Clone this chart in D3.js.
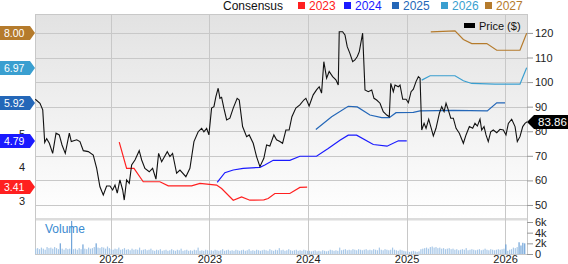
<!DOCTYPE html>
<html>
<head>
<meta charset="utf-8">
<script src="https://cdn.jsdelivr.net/npm/d3@7"></script>
<style>
  body { margin: 0; background: #fff; }
  svg { display: block; font-family: "Liberation Sans", Arial, sans-serif; }
</style>
</head>
<body>
<div id="chart"></div>
<script>
// price: [decimal year, $]
const priceData = [
  [2021.231,93.0],[2021.279,91.4],[2021.307,88.7],[2021.327,75.4],[2021.347,77.0],[2021.374,75.1],
  [2021.408,71.0],[2021.442,79.2],[2021.475,78.5],[2021.503,74.4],[2021.536,71.0],[2021.577,79.2],
  [2021.597,75.8],[2021.652,76.5],[2021.685,75.8],[2021.719,72.1],[2021.770,71.7],[2021.820,70.3],
  [2021.855,64.9],[2021.888,57.4],[2021.922,54.1],[2021.956,57.7],[2021.990,57.7],[2022.017,56.1],
  [2022.041,58.1],[2022.064,54.8],[2022.091,60.2],[2022.119,56.1],[2022.135,52.0],[2022.159,60.2],
  [2022.186,58.8],[2022.210,66.3],[2022.244,68.3],[2022.287,72.1],[2022.312,68.3],[2022.345,64.9],
  [2022.389,63.5],[2022.423,64.9],[2022.457,60.5],[2022.484,71.0],[2022.515,67.6],[2022.572,71.7],
  [2022.599,69.7],[2022.626,71.0],[2022.667,62.9],[2022.701,64.2],[2022.761,61.5],[2022.802,64.9],
  [2022.843,75.8],[2022.886,79.8],[2022.921,81.2],[2022.944,79.8],[2022.972,81.2],[2022.995,78.5],
  [2023.022,89.4],[2023.046,90.0],[2023.066,94.1],[2023.089,97.5],[2023.107,93.4],[2023.124,93.8],
  [2023.147,89.4],[2023.175,84.6],[2023.208,85.3],[2023.242,89.4],[2023.282,93.4],[2023.303,92.7],
  [2023.337,81.9],[2023.378,77.8],[2023.404,78.5],[2023.445,75.1],[2023.479,69.7],[2023.513,65.6],
  [2023.553,69.0],[2023.581,74.4],[2023.614,74.0],[2023.655,78.5],[2023.682,76.5],[2023.716,75.8],
  [2023.743,75.1],[2023.777,80.5],[2023.810,80.5],[2023.838,85.9],[2023.878,89.4],[2023.919,90.7],
  [2023.959,92.7],[2023.980,93.4],[2024.013,90.3],[2024.054,94.8],[2024.088,96.8],[2024.115,98.1],
  [2024.139,95.5],[2024.162,108.3],[2024.190,101.6],[2024.216,104.3],[2024.251,102.2],[2024.284,100.9],
  [2024.308,98.8],[2024.318,120.5],[2024.352,120.5],[2024.376,119.2],[2024.399,114.4],[2024.426,111.7],
  [2024.454,108.3],[2024.477,109.0],[2024.501,110.4],[2024.521,112.4],[2024.555,119.9],[2024.579,96.8],
  [2024.612,96.1],[2024.647,96.8],[2024.670,93.4],[2024.697,92.7],[2024.731,91.4],[2024.764,88.0],
  [2024.799,86.6],[2024.825,85.9],[2024.840,99.5],[2024.866,96.1],[2024.883,98.8],[2024.917,98.1],
  [2024.934,98.8],[2024.961,93.0],[2024.995,93.0],[2025.018,91.6],[2025.046,96.1],[2025.069,97.1],
  [2025.096,100.2],[2025.120,102.2],[2025.137,101.6],[2025.154,80.5],[2025.178,83.2],[2025.198,81.2],
  [2025.225,84.9],[2025.246,81.9],[2025.272,78.1],[2025.299,81.2],[2025.333,87.3],[2025.357,90.0],
  [2025.381,88.0],[2025.401,91.4],[2025.424,88.7],[2025.449,85.3],[2025.475,85.3],[2025.503,81.2],
  [2025.536,79.2],[2025.577,75.1],[2025.604,78.5],[2025.638,81.9],[2025.672,81.2],[2025.695,83.2],
  [2025.719,82.1],[2025.746,84.9],[2025.763,80.5],[2025.787,81.9],[2025.807,78.5],[2025.830,75.8],
  [2025.855,79.8],[2025.881,80.5],[2025.916,79.4],[2025.949,80.8],[2025.983,80.5],[2026.010,78.5],
  [2026.034,83.2],[2026.068,84.9],[2026.102,81.9],[2026.125,75.8],[2026.152,77.8],[2026.180,81.9],
  [2026.203,83.2],[2026.226,83.86]
];

// consensus EPS estimates per fiscal year: [decimal year, EPS]
const eps2023 = [[2022.084,4.75],[2022.159,3.97],[2022.234,3.97],[2022.328,3.57],[2022.497,3.57],[2022.582,3.45],
  [2022.819,3.45],[2022.904,3.52],[2023.073,3.47],[2023.124,3.37],[2023.242,3.02],[2023.327,3.12],[2023.411,3.02],
  [2023.553,3.03],[2023.597,3.07],[2023.665,3.22],[2023.817,3.22],[2023.919,3.40],[2023.993,3.41]];
const eps2024 = [[2023.079,3.55],[2023.157,3.84],[2023.242,3.92],[2023.343,3.97],[2023.513,4.00],[2023.563,4.07],
  [2023.648,4.21],[2023.817,4.21],[2023.919,4.33],[2024.088,4.33],[2024.206,4.56],[2024.325,4.81],[2024.409,4.96],
  [2024.494,4.96],[2024.663,4.68],[2024.802,4.63],[2024.917,4.79],[2025.002,4.79]];
const eps2025 = [[2024.081,5.13],[2024.241,5.51],[2024.409,5.82],[2024.501,5.80],[2024.629,5.56],[2024.748,5.48],
  [2024.825,5.48],[2024.893,5.63],[2025.069,5.64],[2025.137,5.68],[2025.475,5.70],[2025.820,5.68],[2025.916,5.92],
  [2026.000,5.92]];
const eps2026 = [[2025.154,6.60],[2025.239,6.73],[2025.492,6.73],[2025.577,6.58],[2025.662,6.50],[2025.898,6.48],
  [2026.152,6.48],[2026.220,6.97]];
const eps2027 = [[2025.246,8.04],[2025.492,8.07],[2025.577,7.81],[2025.662,7.69],[2025.815,7.69],[2025.916,7.49],
  [2026.152,7.49],[2026.220,8.00]];

const seriesNames = ["2023","2024","2025","2026","2027"];
const seriesColors = ["#ff2020","#1a1aff","#2467b8","#3a9fd0","#b57b2c"];
const seriesTags = ["3.41","4.79","5.92","6.97","8.00"];

// weekly volume in thousands, starting at volStart
const volStart = 2021.236;
const volumes = [
  1.0,1.1,0.9,1.2,1.0,0.8,1.3,1.1,1.2,1.0,1.3,1.1,0.9,2.0,1.0,0.8,1.1,0.9,1.0,6.2,0.9,1.0,0.8,1.1,0.9,1.8,
  1.0,0.9,1.2,1.0,1.1,1.3,2.0,1.2,1.1,1.3,1.2,1.0,1.4,1.1,0.9,
  0.8,1.0,0.9,1.2,0.8,0.9,1.1,0.8,0.9,0.7,1.0,0.8,0.9,0.8,1.2,0.7,0.8,0.9,0.7,0.8,1.0,0.7,0.6,0.8,0.7,0.9,
  0.6,0.7,0.8,0.6,0.7,0.9,0.7,0.6,0.8,0.7,1.0,0.6,0.7,0.8,0.6,0.7,0.6,0.8,0.7,1.2,0.6,0.7,0.6,0.8,0.7,0.6,
  0.7,0.6,0.8,0.7,0.6,0.7,0.9,0.6,0.7,0.8,0.6,0.7,0.6,0.8,0.7,0.6,0.7,0.8,0.6,0.7,0.9,0.6,0.7,0.6,0.8,0.7,
  0.6,0.7,0.8,0.7,0.6,0.9,0.7,0.6,0.8,0.7,1.1,0.7,0.8,0.6,0.7,0.9,0.7,0.6,0.7,0.8,0.6,0.7,0.6,0.8,0.7,0.6,
  0.6,0.5,0.6,0.7,0.5,0.6,0.5,0.7,0.6,0.5,0.6,0.8,0.7,0.6,0.7,0.6,1.2,0.7,0.8,0.9,0.7,0.8,0.7,0.9,0.8,0.7,
  0.9,0.8,0.7,0.8,0.9,0.7,0.8,0.7,0.9,0.8,0.7,1.2,0.8,0.7,0.9,0.8,0.7,0.8,1.2,0.8,0.7,0.6,0.8,0.7,0.6,0.5,
  0.5,0.4,0.5,0.6,0.5,0.4,0.5,0.9,1.0,1.1,1.2,1.0,1.3,1.4,1.2,1.3,1.1,1.2,1.0,1.1,0.9,1.0,1.1,0.9,1.0,0.8,
  0.9,0.7,0.8,0.9,0.8,1.1,0.7,0.8,0.9,0.8,0.7,0.8,0.9,0.7,0.8,1.0,0.8,0.7,0.9,0.8,0.7,0.8,0.9,0.8,0.9,1.0,
  1.8,0.6,0.8,0.9,1.2,1.1,1.3,2.2,1.6,2.1,2.0
];

const priceTicks = [50,60,70,80,90,100,110,120];
const epsTicks = [3,4,5];
const volTicks = [0,2,4,6];
const lastPrice = "83.86";

function yearToDate(y){
  let yr = Math.floor(y);
  let a = new Date(yr,0,1), b = new Date(yr+1,0,1);
  return new Date(+a + (y-yr)*(b-a));
}

var W = 568, H = 264;
var plotL = 35, plotR = 527, plotT = 14, priceBottom = 218, volBottom = 254;

var x = d3.scaleTime().domain([yearToDate(2021.2284), yearToDate(2026.2234)]).range([plotL, plotR]);
var yPrice = d3.scaleLinear().domain([44.7, 127.7]).range([priceBottom, plotT]);
var yEps = d3.scaleLinear().domain([2.49, 8.57]).range([priceBottom, plotT]);
var yVol = d3.scaleLinear().domain([0, 6]).range([volBottom, 222]);

var svg = d3.select("#chart").append("svg").attr("width", W).attr("height", H);

var defs = svg.append("defs");
var grad = defs.append("linearGradient").attr("id","bg").attr("x1",0).attr("x2",0).attr("y1",0).attr("y2",1);
grad.append("stop").attr("offset","0%").attr("stop-color","#e2e2e2");
grad.append("stop").attr("offset","100%").attr("stop-color","#ffffff");
defs.append("clipPath").attr("id","clip").append("rect")
  .attr("x",plotL).attr("y",plotT).attr("width",plotR-plotL).attr("height",priceBottom-plotT);

svg.append("rect").attr("x",plotL).attr("y",plotT).attr("width",plotR-plotL).attr("height",priceBottom-plotT)
  .attr("fill","url(#bg)");

// separator between price and volume panels
svg.append("rect").attr("x",plotL).attr("y",priceBottom).attr("width",plotR-plotL).attr("height",2.5)
  .attr("fill","#dcdcdc");

// grid
var years = [2022,2023,2024,2025,2026].map(function(d){return new Date(d,0,1)});
svg.append("g").selectAll("line").data(years).enter().append("line")
  .attr("x1",d=>Math.round(x(d))+0.5).attr("x2",d=>Math.round(x(d))+0.5).attr("y1",plotT).attr("y2",volBottom)
  .attr("stroke","#c8c8c8");
svg.append("g").selectAll("line").data(priceTicks.concat([127.7])).enter().append("line")
  .attr("x1",plotL).attr("x2",plotR).attr("y1",d=>Math.round(yPrice(d))+0.5).attr("y2",d=>Math.round(yPrice(d))+0.5)
  .attr("stroke","#c8c8c8");
svg.append("line").attr("x1",plotL+0.5).attr("x2",plotL+0.5).attr("y1",plotT).attr("y2",volBottom).attr("stroke","#c8c8c8");
svg.append("line").attr("x1",plotR+0.5).attr("x2",plotR+0.5).attr("y1",plotT).attr("y2",volBottom).attr("stroke","#c8c8c8");
svg.append("line").attr("x1",plotL).attr("x2",plotR).attr("y1",volBottom+0.5).attr("y2",volBottom+0.5).attr("stroke","#c8c8c8");

// volume bars
var startDate = yearToDate(volStart);
svg.append("g").selectAll("rect").data(volumes).enter().append("rect")
  .attr("x",(d,i)=>x(d3.timeWeek.offset(startDate,i))-0.6)
  .attr("width",1.2)
  .attr("y",d=>yVol(d))
  .attr("height",d=>volBottom-yVol(d))
  .attr("fill",d=> d>1.5 ? "#6fa3d8" : "#a8c8e8");

svg.append("text").attr("x",45).attr("y",233).attr("font-size",12).attr("fill","#3a8ad0").text("Volume");

// estimate lines and price
var plot = svg.append("g").attr("clip-path","url(#clip)");
var epsLine = d3.line().x(d=>x(yearToDate(d[0]))).y(d=>yEps(d[1]));
[eps2023,eps2024,eps2025,eps2026,eps2027].forEach(function(s,i){
  plot.append("path").datum(s).attr("d",epsLine).attr("fill","none")
    .attr("stroke",seriesColors[i]).attr("stroke-width",1.2);
});
var priceLine = d3.line().x(d=>x(yearToDate(d[0]))).y(d=>yPrice(d[1]));
plot.append("path").datum(priceData).attr("d",priceLine).attr("fill","none")
  .attr("stroke","#111").attr("stroke-width",1.1);

// axes
var xAxis = svg.append("g").attr("transform","translate(0,"+volBottom+")")
  .call(d3.axisBottom(x).tickValues(years).tickFormat(d3.timeFormat("%Y")).tickSize(0).tickPadding(1));
xAxis.select(".domain").remove();
xAxis.selectAll("text").attr("font-size",11).attr("fill","#222").attr("font-family",null);

var rAxis = svg.append("g").attr("transform","translate("+plotR+",0)")
  .call(d3.axisRight(yPrice).tickValues(priceTicks).tickSize(6).tickPadding(2));
rAxis.select(".domain").remove();
rAxis.selectAll("line").attr("stroke","#999");
rAxis.selectAll("text").attr("font-size",11).attr("fill","#222").attr("font-family",null);

var vAxis = svg.append("g").attr("transform","translate("+plotR+",0)")
  .call(d3.axisRight(yVol).tickValues(volTicks).tickSize(6).tickPadding(2).tickFormat(d=>d?d+"k":"0"));
vAxis.select(".domain").remove();
vAxis.selectAll("line").attr("stroke","#999");
vAxis.selectAll("text").attr("font-size",11).attr("fill","#222").attr("font-family",null);

var lAxis = svg.append("g").attr("transform","translate("+plotL+",0)")
  .call(d3.axisLeft(yEps).tickValues(epsTicks).tickSize(0).tickPadding(10).tickFormat(d3.format("d")));
lAxis.select(".domain").remove();
lAxis.selectAll("text").attr("font-size",11).attr("fill","#222").attr("font-family",null);

// left value tags
seriesTags.forEach(function(t,i){
  let cy = Math.round(yEps(+t));
  svg.append("path").attr("d","M0,"+(cy-7)+"L30,"+(cy-7)+"L35,"+cy+"L30,"+(cy+7)+"L0,"+(cy+7)+"Z")
    .attr("fill",seriesColors[i]);
  svg.append("text").attr("x",4).attr("y",cy).attr("dy","0.36em").attr("font-size",10.5)
    .attr("fill","#fff").text(t);
});

// last price tag
var py = Math.round(yPrice(+lastPrice));
svg.append("path").attr("d","M"+plotR+","+py+"L"+(plotR+7)+","+(py-7)+"L568,"+(py-7)+"L568,"+(py+7)+"L"+(plotR+7)+","+(py+7)+"Z")
  .attr("fill","#000");
svg.append("text").attr("x",538).attr("y",py).attr("dy","0.36em").attr("font-size",11.5).attr("fill","#fff").text(lastPrice);

// legends
svg.append("text").attr("x",223).attr("y",10).attr("font-size",12).attr("fill","#111").text("Consensus");
var legX = [298,344,392,441,485];
seriesNames.forEach(function(n,i){
  svg.append("rect").attr("x",legX[i]).attr("y",2).attr("width",7).attr("height",7).attr("fill",seriesColors[i]);
  svg.append("text").attr("x",legX[i]+11).attr("y",10).attr("font-size",12).attr("fill",seriesColors[i]).text(n);
});
svg.append("rect").attr("x",464).attr("y",23).attr("width",11).attr("height",5).attr("fill","#000");
svg.append("text").attr("x",479).attr("y",29.5).attr("font-size",11).attr("fill","#111").text("Price ($)");
</script>
</body>
</html>
